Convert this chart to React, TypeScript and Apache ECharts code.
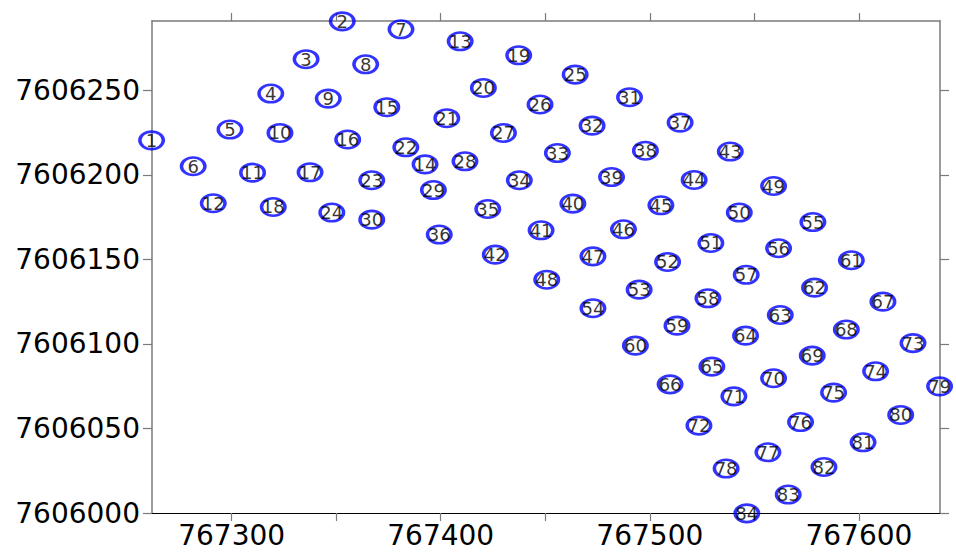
import React, { useEffect, useRef } from "react";
import * as echarts from "echarts";

const pointLabels = [
  "1", "2", "3", "4", "5", "6", "7", "8", "9", "10", "11", "12",
  "13", "14", "15", "16", "17", "18", "19", "20", "21", "22", "23", "24",
  "25", "26", "27", "28", "29", "30", "31", "32", "33", "34", "35", "36",
  "37", "38", "39", "40", "41", "42", "43", "44", "45", "46", "47", "48",
  "49", "50", "51", "52", "53", "54", "55", "56", "57", "58", "59", "60",
  "61", "62", "63", "64", "65", "66", "67", "68", "69", "70", "71", "72",
  "73", "74", "75", "76", "77", "78", "79", "80", "81", "82", "83", "84",
];

const eastings = [
  767261.7, 767352.9, 767335.6, 767318.7, 767299.2, 767281.6,
  767381.0, 767364.1, 767346.2, 767323.1, 767310.0, 767291.2,
  767409.3, 767392.5, 767374.2, 767355.5, 767337.5, 767319.9,
  767437.3, 767420.4, 767402.9, 767383.3, 767367.0, 767347.9,
  767464.3, 767447.5, 767430.0, 767411.6, 767396.5, 767367.0,
  767490.3, 767472.4, 767455.8, 767437.6, 767422.5, 767399.3,
  767514.5, 767497.9, 767481.7, 767463.2, 767448.0, 767426.1,
  767538.5, 767521.2, 767505.3, 767487.4, 767472.8, 767450.7,
  767559.2, 767542.8, 767529.2, 767508.5, 767494.9, 767472.8,
  767578.0, 767561.6, 767546.1, 767527.8, 767513.0, 767493.1,
  767596.4, 767578.8, 767562.4, 767545.8, 767529.7, 767509.7,
  767611.5, 767594.0, 767577.7, 767559.2, 767540.2, 767523.5,
  767625.9, 767608.0, 767587.9, 767572.1, 767556.5, 767536.5,
  767638.6, 767620.0, 767602.0, 767583.3, 767566.2, 767546.4,
];

const northings = [
  7606220.4, 7606290.8, 7606268.4, 7606248.1, 7606226.8, 7606205.1,
  7606286.1, 7606265.4, 7606245.1, 7606224.8, 7606201.3, 7606183.2,
  7606279.0, 7606206.2, 7606240.0, 7606220.9, 7606201.5, 7606181.0,
  7606270.7, 7606251.4, 7606233.5, 7606216.3, 7606196.8, 7606177.7,
  7606259.3, 7606241.6, 7606224.8, 7606208.0, 7606191.0, 7606173.5,
  7606245.9, 7606229.1, 7606212.9, 7606196.8, 7606179.8, 7606164.7,
  7606230.9, 7606214.3, 7606198.7, 7606183.0, 7606167.2, 7606152.8,
  7606213.8, 7606197.0, 7606182.0, 7606167.8, 7606151.8, 7606138.0,
  7606193.4, 7606177.7, 7606159.7, 7606148.5, 7606132.1, 7606121.1,
  7606172.1, 7606156.6, 7606140.9, 7606127.0, 7606110.8, 7606099.0,
  7606149.5, 7606133.3, 7606117.1, 7606104.9, 7606086.6, 7606076.1,
  7606125.0, 7606108.5, 7606093.1, 7606079.7, 7606069.0, 7606051.7,
  7606100.5, 7606083.8, 7606071.2, 7606053.8, 7606035.9, 7606026.3,
  7606074.9, 7606058.0, 7606041.8, 7606027.2, 7606010.9, 7605999.8,
];

const xTickValues = [767300, 767350, 767400, 767450, 767500, 767550, 767600];
const xLabelValues = [767300, 767400, 767500, 767600];
const yTickValues = [7606000, 7606050, 7606100, 7606150, 7606200, 7606250];

const X_MIN = 767261.9;
const X_MAX = 767638.8;
const Y_MIN = 7606000;
const Y_MAX = 7606291;

const ELLIPSE = "path://M0,10A12,10,0,1,1,24,10A12,10,0,1,1,0,10Z";

export default function App() {
  const ref = useRef<HTMLDivElement>(null);

  useEffect(() => {
    if (!ref.current) return;
    const chart = echarts.init(ref.current, null, { renderer: "svg" });
    const gray = "#7a7a7a";
    const axisFont = { fontFamily: "DejaVu Sans", fontSize: 28, color: "#000" };

    const data = pointLabels.map((name, i) => ({
      name,
      value: [eastings[i], northings[i]],
    }));

    chart.setOption({
      animation: false,
      backgroundColor: "#ffffff",
      grid: { left: 152, top: 21, width: 788, height: 492, containLabel: false },
      xAxis: [
        {
          type: "value",
          position: "bottom",
          min: X_MIN,
          max: X_MAX,
          splitLine: { show: false },
          axisLine: { show: true, onZero: false, lineStyle: { color: "#000", width: 1.2 } },
          axisTick: {
            show: true,
            inside: false,
            length: 8,
            customValues: xTickValues,
            lineStyle: { color: gray, width: 1.2 },
          },
          axisLabel: {
            show: true,
            margin: 8,
            customValues: xLabelValues,
            formatter: (v: number) => String(Math.round(v)),
            ...axisFont,
          },
        },
        {
          type: "value",
          position: "top",
          min: X_MIN,
          max: X_MAX,
          splitLine: { show: false },
          axisLine: { show: true, onZero: false, lineStyle: { color: gray, width: 1.5 } },
          axisTick: {
            show: true,
            inside: false,
            length: 8,
            customValues: xTickValues,
            lineStyle: { color: gray, width: 1.2 },
          },
          axisLabel: { show: false },
        },
      ],
      yAxis: [
        {
          type: "value",
          position: "left",
          min: Y_MIN,
          max: Y_MAX,
          splitLine: { show: false },
          axisLine: { show: true, onZero: false, lineStyle: { color: gray, width: 1.5 } },
          axisTick: {
            show: true,
            inside: false,
            length: 9,
            customValues: yTickValues,
            lineStyle: { color: gray, width: 1.2 },
          },
          axisLabel: {
            show: true,
            margin: 12,
            customValues: yTickValues,
            formatter: (v: number) => String(Math.round(v)),
            ...axisFont,
          },
        },
        {
          type: "value",
          position: "right",
          min: Y_MIN,
          max: Y_MAX,
          splitLine: { show: false },
          axisLine: { show: true, onZero: false, lineStyle: { color: gray, width: 1.5 } },
          axisTick: {
            show: true,
            inside: false,
            length: 9,
            customValues: yTickValues,
            lineStyle: { color: gray, width: 1.2 },
          },
          axisLabel: { show: false },
        },
      ],
      series: [
        {
          type: "scatter",
          xAxisIndex: 0,
          yAxisIndex: 0,
          clip: false,
          symbol: ELLIPSE,
          symbolSize: [23.5, 17.5],
          symbolKeepAspect: false,
          itemStyle: { color: "rgba(255,255,255,0)", borderColor: "#0000ff", borderWidth: 3 },
          label: {
            show: true,
            position: "inside",
            formatter: (p: any) => p.name,
            color: "#000",
            fontFamily: "DejaVu Sans",
            fontSize: 18,
          },
          emphasis: { disabled: true },
          data,
        },
      ],
    });

    return () => chart.dispose();
  }, []);

  return (
    <div
      ref={ref}
      style={{ position: "absolute", left: 0, top: 0, width: 956, height: 552, background: "#fff" }}
    />
  );
}
